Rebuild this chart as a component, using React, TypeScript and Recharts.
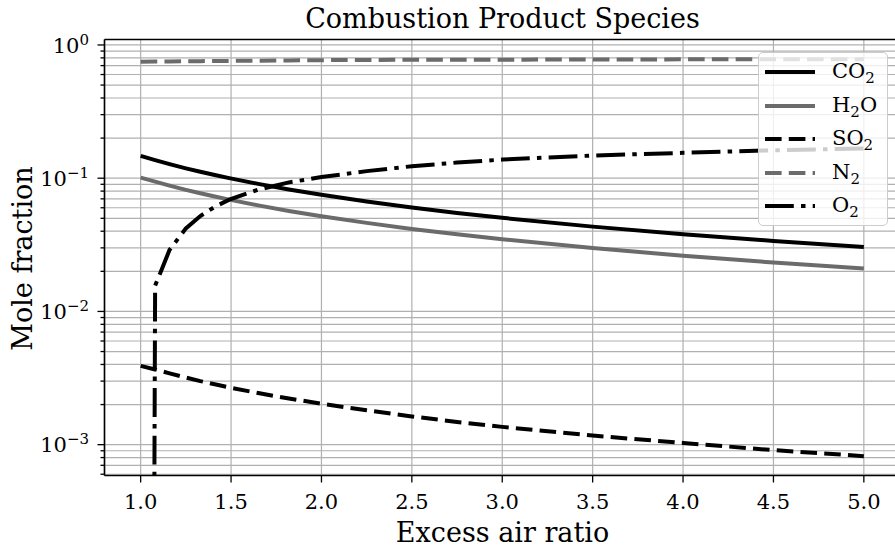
import { LineChart, Line, XAxis, YAxis, CartesianGrid, ReferenceLine } from "recharts";

const FONT = "'DejaVu Serif', serif";

const excessAir = [1.0, 1.08, 1.16, 1.25, 1.33, 1.41, 1.49, 1.65, 1.82, 2.0, 2.25, 2.5, 2.75, 3.0, 3.5, 4.0, 4.5, 5.0];
const co2 = [0.147, 0.1366, 0.1275, 0.1186, 0.1117, 0.1056, 0.1001, 0.0906, 0.0823, 0.0751, 0.0669, 0.0603, 0.0549, 0.0504, 0.0433, 0.038, 0.0338, 0.0304];
const h2o = [0.101, 0.0943, 0.088, 0.0818, 0.0771, 0.0729, 0.0691, 0.0625, 0.0568, 0.0518, 0.0462, 0.0416, 0.0379, 0.0348, 0.0299, 0.0262, 0.0233, 0.021];
const so2 = [0.0039, 0.00367, 0.00343, 0.00319, 0.003, 0.00284, 0.00269, 0.00244, 0.00222, 0.00203, 0.00181, 0.00163, 0.00148, 0.00136, 0.00117, 0.00103, 0.00091, 0.00082];
const n2 = [0.748, 0.7498, 0.752, 0.7544, 0.7562, 0.7577, 0.7591, 0.7625, 0.7657, 0.7691, 0.7721, 0.7735, 0.7747, 0.7754, 0.7776, 0.7798, 0.78, 0.7808];
// O2 is zero at stoichiometric air; on the log axis that drops off the bottom
const o2 = [1e-30, 0.0156, 0.029, 0.042, 0.052, 0.061, 0.069, 0.082, 0.093, 0.102, 0.113, 0.123, 0.131, 0.138, 0.148, 0.155, 0.162, 0.167];

const xTicks = [1.0, 1.5, 2.0, 2.5, 3.0, 3.5, 4.0, 4.5, 5.0];
const yTicks = [
  0.0006, 0.0007, 0.0008, 0.0009,
  0.001, 0.002, 0.003, 0.004, 0.005, 0.006, 0.007, 0.008, 0.009,
  0.01, 0.02, 0.03, 0.04, 0.05, 0.06, 0.07, 0.08, 0.09,
  0.1, 0.2, 0.3, 0.4, 0.5, 0.6, 0.7, 0.8, 0.9,
  1,
];

const Y_MIN = 5.87e-4;
const Y_MAX = 1.099;

const data = excessAir.map((x, i) => ({
  x,
  co2: co2[i],
  h2o: h2o[i],
  so2: so2[i],
  n2: n2[i],
  o2: o2[i],
}));

const LW = 4;
const DASHED = "16.6 7.2";
const DASHDOT = "28.8 7.2 4.5 7.2";
const GRAY = "#6b6b6b";

const PLOT_LEFT = 104.5;
const PLOT_BOTTOM = 475.5;

const series = [
  { key: "co2", name: "CO", sub: "2", tail: "", color: "#000", dash: undefined },
  { key: "h2o", name: "H", sub: "2", tail: "O", color: GRAY, dash: undefined },
  { key: "so2", name: "SO", sub: "2", tail: "", color: "#000", dash: DASHED },
  { key: "n2", name: "N", sub: "2", tail: "", color: GRAY, dash: DASHED },
  { key: "o2", name: "O", sub: "2", tail: "", color: "#000", dash: DASHDOT },
];

function YTick(props: any) {
  const { y, payload } = props;
  const v = payload.value;
  const exp = Math.log10(v);
  const major = Math.abs(exp - Math.round(exp)) < 1e-6;
  const e = Math.round(exp);
  return (
    <g>
      <line x1={PLOT_LEFT - (major ? 7 : 4)} x2={PLOT_LEFT} y1={y} y2={y} stroke="#000" strokeWidth={1.3} />
      {major && (
        <text x={89} y={y + 7.7} textAnchor="end" fontFamily={FONT} fontSize={21} fill="#000">
          10
          <tspan dy={-7.9} fontSize={15}>
            {e === 0 ? "0" : "\u2212" + Math.abs(e)}
          </tspan>
        </text>
      )}
    </g>
  );
}

function XTick(props: any) {
  const { x, payload } = props;
  return (
    <g>
      <line x1={x} x2={x} y1={PLOT_BOTTOM} y2={PLOT_BOTTOM + 7} stroke="#000" strokeWidth={1.3} />
      <text x={x} y={508.5} textAnchor="middle" fontFamily={FONT} fontSize={21} fill="#000">
        {payload.value.toFixed(1)}
      </text>
    </g>
  );
}

function LegendBox() {
  const rows = [71, 104.5, 138, 171.5, 205];
  return (
    <div
      style={{
        position: "absolute",
        left: 758,
        top: 52,
        width: 130,
        height: 174,
        boxSizing: "border-box",
        background: "rgba(255,255,255,0.8)",
        border: "1px solid #cccccc",
        borderRadius: 5,
      }}
    >
      {series.map((s, i) => (
        <div
          key={s.key}
          style={{
            position: "absolute",
            left: 6,
            top: rows[i] - 52 - 13,
            height: 26,
            display: "flex",
            alignItems: "center",
            whiteSpace: "nowrap",
          }}
        >
          <svg width={50} height={10} style={{ display: "block" }}>
            <line x1={0} x2={50} y1={5} y2={5} stroke={s.color} strokeWidth={LW} strokeDasharray={s.dash} />
          </svg>
          <span style={{ marginLeft: 17, fontFamily: FONT, fontSize: 21, color: "#000", lineHeight: "26px" }}>
            {s.name}
            <span style={{ fontSize: 15, position: "relative", top: 5 }}>{s.sub}</span>
            {s.tail}
          </span>
        </div>
      ))}
    </div>
  );
}

export default function App() {
  return (
    <div style={{ position: "absolute", left: 0, top: 0, width: 895, height: 549, overflow: "hidden", background: "#fff" }}>
      <LineChart width={900} height={549} data={data} margin={{ top: 39.5, right: 0, left: 0, bottom: 0 }}>
        <CartesianGrid stroke="#b0b0b0" strokeWidth={1.2} strokeDasharray="" />
        <XAxis
          dataKey="x"
          type="number"
          domain={[0.8, 5.2]}
          ticks={xTicks}
          interval={0}
          height={73.5}
          tickLine={false}
          tick={(p: any) => <XTick {...p} />}
          axisLine={{ stroke: "#000", strokeWidth: 1.6 }}
          allowDataOverflow
        />
        <YAxis
          type="number"
          scale="log"
          domain={[Y_MIN, Y_MAX]}
          ticks={yTicks}
          interval={0}
          width={104.5}
          tickLine={false}
          tick={(p: any) => <YTick {...p} />}
          axisLine={{ stroke: "#000", strokeWidth: 1.6 }}
          allowDataOverflow
        />
        <ReferenceLine y={Y_MAX} stroke="#000" strokeWidth={1.6} ifOverflow="visible" />
        {series.map((s) => (
          <Line
            key={s.key}
            type="linear"
            dataKey={s.key}
            stroke={s.color}
            strokeWidth={LW}
            strokeDasharray={s.dash}
            dot={false}
            activeDot={false}
            isAnimationActive={false}
          />
        ))}
      </LineChart>
      <svg width={895} height={549} style={{ position: "absolute", left: 0, top: 0, pointerEvents: "none" }}>
        <text x={502.5} y={28.3} textAnchor="middle" fontFamily={FONT} fontSize={27} fill="#000">
          Combustion Product Species
        </text>
        <text x={502.5} y={541.5} textAnchor="middle" fontFamily={FONT} fontSize={27} fill="#000">
          Excess air ratio
        </text>
        <text
          x={32}
          y={258.5}
          textAnchor="middle"
          fontFamily={FONT}
          fontSize={27}
          fill="#000"
          transform="rotate(-90 32 258.5)"
        >
          Mole fraction
        </text>
      </svg>
      <LegendBox />
    </div>
  );
}
